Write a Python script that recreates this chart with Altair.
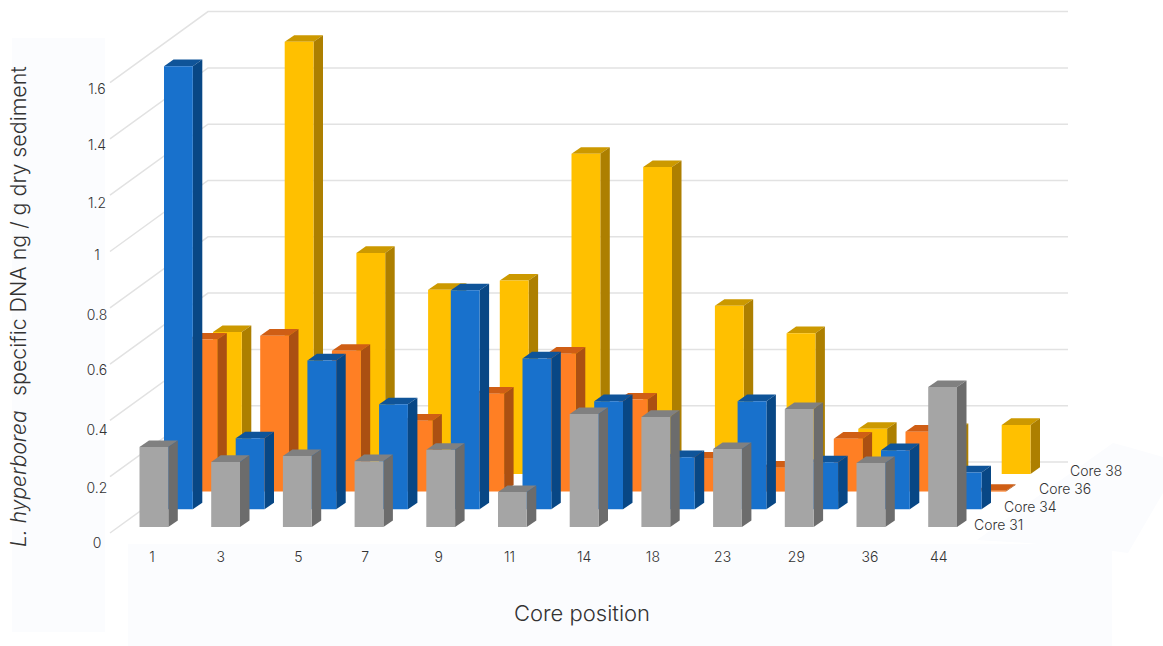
import altair as alt
import pandas as pd

# Core positions and measured DNA per core, ng / g dry sediment
positions = ["1", "3", "5", "7", "9", "11", "14", "18", "23", "29", "36", "44"]
core_31 = [0.284, 0.231, 0.252, 0.234, 0.274, 0.124, 0.401, 0.391, 0.277, 0.419, 0.227, 0.497]
core_34 = [1.574, 0.252, 0.529, 0.373, 0.778, 0.536, 0.384, 0.185, 0.384, 0.167, 0.210, 0.131]
core_36 = [0.540, 0.554, 0.500, 0.252, 0.348, 0.490, 0.327, 0.117, 0.085, 0.188, 0.213, 0.003]
core_38 = [0.504, 1.535, 0.785, 0.654, 0.687, 1.137, 1.090, 0.597, 0.500, 0.160, 0.156, 0.174]
value_ticks = [0, 0.2, 0.4, 0.6, 0.8, 1, 1.2, 1.4, 1.6]
value_labels = ["0", "0.2", "0.4", "0.6", "0.8", "1", "1.2", "1.4", "1.6"]

# Canvas and the oblique projection, in pixels
W, H = 1163, 646
CAT_STEP = 71.7
VAL_PX = 281.5
ORIGIN_X, ORIGIN_Y = 139.5, 527.0
BAR_W = 28.8
BAR_DX, BAR_DY = 9.5, 6.6
ROW_DX, ROW_DY = 24.5, 17.7
WALL_X0, WALL_X1, WALL_FRONT_X = 208.0, 1068.0, 110.0
WALL_BACK_Y, WALL_FRONT_Y = 462.0, 533.0

GRID = "#E2E2E2"
INK = "#333333"
PANEL = "#FBFCFE"
FONT = "Inter"

rows = [
    ("Core 38", 3, core_38, "#FFC000", "#AD7F00", "#CC9900"),
    ("Core 36", 2, core_36, "#FF7F24", "#AB5012", "#CF5E15"),
    ("Core 34", 1, core_34, "#1871CC", "#084785", "#0F5499"),
    ("Core 31", 0, core_31, "#A5A5A5", "#6C6C6C", "#808080"),
]


def ux(px):
    return (px - ORIGIN_X) / CAT_STEP


def uy(py):
    return (ORIGIN_Y - py) / VAL_PX


x_scale = alt.Scale(domain=[ux(0), ux(W)], range=[0, W], nice=False, zero=False)
y_scale = alt.Scale(domain=[uy(H), uy(0)], range=[H, 0], nice=False, zero=False)


def X(field="x"):
    return alt.X(field, type="quantitative", scale=x_scale, axis=None)


def Y(field="y"):
    return alt.Y(field, type="quantitative", scale=y_scale, axis=None, stack=None)


# Every bar is three faces; rows run back to front so nearer bars cover farther ones
faces = []
face_id = 0


def add_face(shade, points):
    global face_id
    for x, y, y2 in points:
        faces.append({"face": f"f{face_id:04d}", "shade": shade, "x": x, "y": y, "y2": y2})
    face_id += 1


dx = BAR_DX / CAT_STEP
dy = BAR_DY / VAL_PX
bw = BAR_W / CAT_STEP
shades = []
for name, row, values, front, side, top in rows:
    shades += [front, side, top]
    x_off = row * ROW_DX / CAT_STEP
    base = row * ROW_DY / VAL_PX
    for i, v in enumerate(values):
        x = i + x_off
        t = base + v
        add_face(top, [(x, t, t), (x + dx, t, t + dy), (x + bw, t, t + dy), (x + bw + dx, t + dy, t + dy)])
        add_face(side, [(x + bw, base, t), (x + bw + dx, base + dy, t + dy)])
        add_face(front, [(x, base, t), (x + bw, base, t)])

bars = (
    alt.Chart(pd.DataFrame(faces))
    .mark_area(orient="vertical")
    .encode(
        x=X(),
        y=Y(),
        y2=alt.Y2("y2"),
        detail=alt.Detail("face:N"),
        color=alt.Color("shade:N", scale=alt.Scale(domain=shades, range=shades), legend=None),
    )
)

# Pale panels behind the axis text
panel_rects = pd.DataFrame(
    [
        {"x": ux(12), "x2": ux(105), "y": uy(38), "y2": uy(632)},
        {"x": ux(128), "x2": ux(1112), "y": uy(544), "y2": uy(646)},
    ]
)
panels = (
    alt.Chart(panel_rects)
    .mark_rect(color=PANEL)
    .encode(x=X(), x2=alt.X2("x2"), y=Y(), y2=alt.Y2("y2"))
)
legend_panel = pd.DataFrame(
    [
        {"x": ux(px), "y": uy(a), "y2": uy(b)}
        for px, a, b in [(977, 540, 540), (1027, 543, 504), (1113, 551, 443), (1128, 553, 447), (1163, 493, 457)]
    ]
)
legend_bg = (
    alt.Chart(legend_panel)
    .mark_area(color=PANEL, orient="vertical")
    .encode(x=X(), y=Y(), y2=alt.Y2("y2"))
)

# Gridlines on the back wall and the side wall
grid_rows = []
for v in value_ticks:
    back = v + uy(WALL_BACK_Y)
    front_y = v + uy(WALL_FRONT_Y)
    grid_rows.append({"line": v, "x": ux(WALL_FRONT_X), "y": front_y, "n": 0})
    grid_rows.append({"line": v, "x": ux(WALL_X0), "y": back, "n": 1})
    grid_rows.append({"line": v, "x": ux(WALL_X1), "y": back, "n": 2})
grid = (
    alt.Chart(pd.DataFrame(grid_rows))
    .mark_line(color=GRID, strokeWidth=1.5)
    .encode(x=X(), y=Y(), detail=alt.Detail("line:N"), order=alt.Order("n:Q"))
)

# Value labels sit just below their lines, with small hand placed nudges
label_drop = 0.05
value_nudge = [3, 4.3, 2.6, -1, 0, -3.5, 1, -1, -0.6]
value_df = pd.DataFrame(
    {
        "x": [ux(97)] * len(value_ticks),
        "y": [v - label_drop + uy(ORIGIN_Y + n) for v, n in zip(value_ticks, value_nudge)],
        "label": value_labels,
    }
)
value_text = (
    alt.Chart(value_df)
    .mark_text(font=FONT, fontSize=14, fontWeight=300, color=INK, align="center", baseline="middle")
    .encode(x=X(), y=Y(), text="label:N")
)

# Position labels along the front edge
position_nudge = [0, -3, 3, -2, 0, -1, 2, -1, -3, -1, 1, -2]
position_df = pd.DataFrame(
    {
        "x": [i + ux(152 + n) - ux(ORIGIN_X) for i, n in enumerate(position_nudge)],
        "y": [uy(557.5)] * len(positions),
        "label": positions,
    }
)
position_text = (
    alt.Chart(position_df)
    .mark_text(font=FONT, fontSize=14, fontWeight=300, color=INK, align="center", baseline="middle")
    .encode(x=X(), y=Y(), text="label:N")
)

# Row names beside the last bar of each row
row_names = pd.DataFrame(
    {
        "x": [ux(1070), ux(1039), ux(1004), ux(974)],
        "y": [uy(472), uy(490), uy(508), uy(526)],
        "label": ["Core 38", "Core 36", "Core 34", "Core 31"],
    }
)
row_text = (
    alt.Chart(row_names)
    .mark_text(font=FONT, fontSize=14, fontWeight=300, color=INK, align="left", baseline="middle")
    .encode(x=X(), y=Y(), text="label:N")
)

x_title = (
    alt.Chart(pd.DataFrame({"x": [ux(582)], "y": [uy(614)], "label": ["Core position"]}))
    .mark_text(font=FONT, fontSize=22, fontWeight=300, color=INK, align="center", baseline="middle")
    .encode(x=X(), y=Y(), text="label:N")
)
y_title_species = (
    alt.Chart(pd.DataFrame({"x": [ux(20)], "y": [uy(547)], "label": ["L. hyperborea"]}))
    .mark_text(font=FONT, fontSize=21, fontWeight=300, fontStyle="italic", color=INK, align="left", baseline="middle", angle=270)
    .encode(x=X(), y=Y(), text="label:N")
)
y_title_rest = (
    alt.Chart(pd.DataFrame({"x": [ux(20)], "y": [uy(396)], "label": ["specific DNA ng / g dry sediment"]}))
    .mark_text(font=FONT, fontSize=21.4, fontWeight=300, color=INK, align="left", baseline="middle", angle=270)
    .encode(x=X(), y=Y(), text="label:N")
)

chart = (
    alt.layer(
        panels, legend_bg, grid, bars, value_text, position_text, row_text, x_title, y_title_species, y_title_rest
    )
    .properties(width=W, height=H, padding=0, autosize=alt.AutoSizeParams(type="none"), background="white")
    .configure_view(stroke=None)
)

chart.save("out.html", embed_options={"renderer": "svg", "actions": False})
